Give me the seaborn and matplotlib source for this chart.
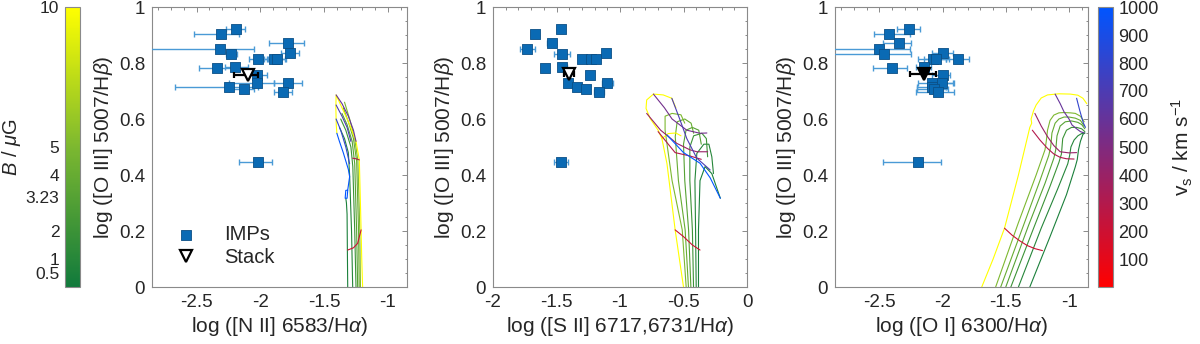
import numpy as np
import pandas as pd
import matplotlib
matplotlib.use('Agg')
import matplotlib.pyplot as plt
import seaborn as sns
from matplotlib.colors import LinearSegmentedColormap, Normalize
from matplotlib.cm import ScalarMappable
from matplotlib.ticker import MultipleLocator

sns.set_theme(style='white')
plt.rcParams['font.family'] = ['Liberation Sans', 'DejaVu Sans']
plt.rcParams['mathtext.fontset'] = 'custom'
plt.rcParams['mathtext.rm'] = 'Liberation Sans'
plt.rcParams['mathtext.it'] = 'Liberation Sans:italic'

# ---- observed points (IMPs), shared y ----
o3 = [0.920, 0.902, 0.872, 0.851, 0.832, 0.837, 0.814, 0.814, 0.814, 0.781,
      0.786, 0.758, 0.730, 0.730, 0.715, 0.708, 0.695, 0.445]

n2 = [-2.19, -2.31, -1.78, -2.32, -2.23, -1.77, -2.02, -1.89, -1.87, -2.34,
      -2.20, -2.03, -2.03, -1.78, -2.25, -2.13, -1.82, -2.02]
n2_lo = [-2.27, -2.52, -1.93, -3.00, -2.27, -1.84, -2.09, -1.97, -1.94, -2.48,
         -2.28, -2.10, -2.25, -1.89, -2.67, -2.25, -1.89, -2.17]
n2_hi = [-2.12, -2.17, -1.66, -2.05, -2.18, -1.70, -1.95, -1.81, -1.80, -2.20,
         -2.10, -1.95, -1.89, -1.67, -2.02, -2.05, -1.75, -1.91]

s2 = [-1.466, -1.671, -1.539, -1.729, -1.455, -1.113, -1.303, -1.229, -1.189, -1.587,
      -1.453, -1.239, -1.408, -1.100, -1.342, -1.271, -1.166, -1.466]
s2_lo = [-1.50, -1.70, -1.575, -1.79, -1.52, -1.13, -1.32, -1.25, -1.21, -1.60,
         -1.48, -1.25, -1.42, -1.145, -1.36, -1.29, -1.205, -1.52]
s2_hi = [-1.44, -1.64, -1.505, -1.67, -1.39, -1.10, -1.28, -1.21, -1.17, -1.58,
         -1.42, -1.23, -1.40, -1.055, -1.32, -1.255, -1.125, -1.41]

o1 = [-2.267, -2.425, -2.345, -2.50, -2.459, -1.995, -2.078, -2.054, -1.878, -2.40,
      -2.15, -2.00, -2.085, -2.005, -2.083, -2.065, -2.036, -2.19]
o1_lo = [-2.36, -2.54, -2.47, -3.00, -3.00, -2.08, -2.19, -2.15, -1.97, -2.55,
         -2.21, -2.08, -2.19, -2.09, -2.20, -2.20, -2.21, -2.47]
o1_hi = [-2.18, -2.26, -2.25, -2.26, -2.25, -1.92, -1.97, -1.95, -1.79, -2.28,
         -2.09, -1.94, -1.92, -1.91, -1.97, -1.96, -1.91, -2.01]

# stacked spectrum: (x, x_lo, x_hi, y) per panel
stack_n2 = (-2.10, -2.21, -2.02, 0.757)
stack_s2 = (-1.40, -1.44, -1.36, 0.760)
stack_o1 = (-2.15, -2.26, -2.05, 0.762)

# ---- shock model grids: (value, xs, ys) ----
n2_B_lines = [
    (10, [-1.198, -1.205, -1.21, -1.224, -1.25, -1.30, -1.36, -1.406, -1.408, -1.405, -1.40],
         [0.0, 0.10, 0.204, 0.454, 0.52, 0.58, 0.64, 0.686, 0.64, 0.58, 0.549]),
    (5, [-1.215, -1.22, -1.235, -1.26, -1.30, -1.34], [0.0, 0.2, 0.45, 0.53, 0.60, 0.66]),
    (4, [-1.225, -1.23, -1.245, -1.27, -1.31, -1.35], [0.0, 0.2, 0.45, 0.53, 0.59, 0.64]),
    (3.23, [-1.237, -1.245, -1.26, -1.28, -1.32, -1.36], [0.0, 0.2, 0.44, 0.52, 0.58, 0.62]),
    (2, [-1.25, -1.26, -1.275, -1.29, -1.33, -1.37], [0.0, 0.2, 0.43, 0.50, 0.56, 0.60]),
    (1, [-1.276, -1.285, -1.30, -1.31, -1.34, -1.38], [0.0, 0.2, 0.40, 0.48, 0.53, 0.57]),
    (0.5, [-1.315, -1.318, -1.32, -1.325, -1.33], [0.0, 0.15, 0.26, 0.30, 0.317]),
]
n2_v_lines = [
    (200, [-1.315, -1.27, -1.237, -1.21], [0.132, 0.14, 0.156, 0.204]),
    (300, [-1.276, -1.25, -1.224], [0.46, 0.458, 0.454]),
    (600, [-1.406, -1.36, -1.31, -1.27, -1.25], [0.686, 0.655, 0.61, 0.56, 0.52]),
    (700, [-1.406, -1.36, -1.32, -1.29], [0.65, 0.61, 0.57, 0.52]),
    (800, [-1.406, -1.37, -1.33, -1.30], [0.60, 0.56, 0.50, 0.44]),
    (1000, [-1.40, -1.38, -1.35, -1.31, -1.30, -1.315, -1.33, -1.335, -1.32, -1.315],
           [0.549, 0.52, 0.48, 0.42, 0.394, 0.346, 0.345, 0.317, 0.317, 0.345]),
]

s2_B_lines = [
    (10, [-0.50, -0.566, -0.63, -0.67, -0.70, -0.763, -0.795, -0.79, -0.737, -0.66, -0.592, -0.56],
         [0.0, 0.205, 0.44, 0.53, 0.56, 0.602, 0.638, 0.668, 0.689, 0.686, 0.674, 0.64]),
    (10, [-0.67, -0.62, -0.56, -0.52], [0.53, 0.548, 0.55, 0.54]),
    (5, [-0.479, -0.51, -0.59, -0.645, -0.645, -0.59, -0.52, -0.49],
        [0.0, 0.204, 0.38, 0.56, 0.61, 0.62, 0.615, 0.585]),
    (4, [-0.461, -0.487, -0.54, -0.565, -0.55, -0.49, -0.44, -0.42],
        [0.0, 0.204, 0.38, 0.537, 0.59, 0.60, 0.585, 0.549]),
    (3.23, [-0.442, -0.46, -0.49, -0.50, -0.48, -0.43, -0.38, -0.36],
           [0.0, 0.204, 0.38, 0.51, 0.56, 0.57, 0.56, 0.51]),
    (2, [-0.421, -0.43, -0.45, -0.45, -0.42, -0.355, -0.32, -0.31],
        [0.0, 0.204, 0.38, 0.50, 0.54, 0.549, 0.53, 0.465]),
    (1, [-0.40, -0.405, -0.41, -0.395, -0.34, -0.30, -0.277, -0.264],
        [0.0, 0.204, 0.38, 0.477, 0.51, 0.51, 0.465, 0.405]),
    (0.5, [-0.382, -0.382, -0.37, -0.33, -0.277, -0.21],
          [0.0, 0.204, 0.38, 0.43, 0.405, 0.317]),
]
s2_v_lines = [
    (200, [-0.566, -0.50, -0.43, -0.37], [0.204, 0.18, 0.15, 0.132]),
    (300, [-0.70, -0.62, -0.566, -0.45, -0.36], [0.555, 0.51, 0.48, 0.468, 0.456]),
    (400, [-0.79, -0.68, -0.553, -0.45, -0.395, -0.31], [0.62, 0.56, 0.513, 0.49, 0.483, 0.483]),
    (550, [-0.737, -0.65, -0.59, -0.474, -0.37, -0.316], [0.689, 0.64, 0.60, 0.56, 0.549, 0.55]),
    (700, [-0.592, -0.53, -0.474, -0.395, -0.29], [0.674, 0.60, 0.53, 0.46, 0.418]),
    (1000, [-0.63, -0.50, -0.37, -0.29, -0.21], [0.543, 0.48, 0.442, 0.39, 0.317]),
]

o1_B_lines = [
    (10, [-1.69, -1.60, -1.51, -1.40, -1.31, -1.295, -1.30, -1.28, -1.26, -1.22, -1.17, -1.08, -0.99, -0.93, -0.89, -0.86],
         [0.0, 0.10, 0.21, 0.40, 0.57, 0.585, 0.60, 0.63, 0.65, 0.675, 0.686, 0.69, 0.689, 0.685, 0.674, 0.655]),
    (5, [-1.58, -1.40, -1.26, -1.19, -1.18, -1.17, -1.15, -1.12, -1.08, -1.04, -0.99, -0.95, -0.91, -0.88],
        [0.0, 0.23, 0.40, 0.49, 0.52, 0.56, 0.595, 0.614, 0.622, 0.623, 0.622, 0.62, 0.61, 0.59]),
    (4, [-1.54, -1.36, -1.23, -1.16, -1.145, -1.135, -1.11, -1.08, -1.04, -1.0, -0.95, -0.91, -0.88],
        [0.0, 0.22, 0.38, 0.47, 0.50, 0.55, 0.585, 0.60, 0.607, 0.607, 0.603, 0.595, 0.575]),
    (3.23, [-1.50, -1.32, -1.19, -1.12, -1.105, -1.095, -1.07, -1.03, -0.98, -0.93, -0.90, -0.875],
           [0.0, 0.22, 0.37, 0.46, 0.49, 0.54, 0.575, 0.59, 0.593, 0.588, 0.58, 0.565]),
    (2, [-1.46, -1.28, -1.15, -1.08, -1.06, -1.05, -1.02, -0.98, -0.94, -0.90, -0.875],
        [0.0, 0.21, 0.36, 0.445, 0.475, 0.53, 0.56, 0.57, 0.57, 0.565, 0.555]),
    (1, [-1.40, -1.22, -1.09, -1.01, -0.995, -0.985, -0.96, -0.93, -0.90, -0.875],
        [0.0, 0.21, 0.35, 0.44, 0.47, 0.50, 0.525, 0.54, 0.548, 0.55]),
    (0.5, [-1.31, -1.15, -1.02, -0.95, -0.935, -0.925, -0.91, -0.89, -0.875],
          [0.0, 0.18, 0.33, 0.43, 0.455, 0.49, 0.52, 0.545, 0.55]),
]
o1_v_lines = [
    (200, [-1.51, -1.45, -1.39, -1.33, -1.27, -1.21], [0.21, 0.185, 0.165, 0.148, 0.137, 0.13]),
    (300, [-1.29, -1.23, -1.17, -1.12, -1.07, -1.02, -0.96], [0.56, 0.525, 0.495, 0.475, 0.463, 0.458, 0.457]),
    (400, [-1.27, -1.22, -1.17, -1.12, -1.07, -1.0, -0.94], [0.62, 0.575, 0.537, 0.505, 0.483, 0.479, 0.48]),
    (600, [-1.11, -1.07, -1.04, -1.0, -0.977, -0.94, -0.91, -0.88], [0.689, 0.655, 0.626, 0.60, 0.579, 0.565, 0.555, 0.55]),
    (800, [-0.94, -0.915, -0.886, -0.87], [0.674, 0.63, 0.585, 0.57]),
]

# ticks / labels
y_ticks = [0, 0.2, 0.4, 0.6, 0.8, 1]
y_ticklabels = ['0', '0.2', '0.4', '0.6', '0.8', '1']
x_ticks_wide = [-2.5, -2, -1.5, -1]
x_ticklabels_wide = ['-2.5', '-2', '-1.5', '-1']
x_ticks_s2 = [-2, -1.5, -1, -0.5, 0]
x_ticklabels_s2 = ['-2', '-1.5', '-1', '-0.5', '0']
B_ticks = [0.5, 1, 2, 3.23, 4, 5, 10]
B_ticklabels = ['0.5', '1', '2', '3.23', '4', '5', '10']
v_ticks = [100, 200, 300, 400, 500, 600, 700, 800, 900, 1000]

b_cmap = LinearSegmentedColormap.from_list('bfield', ['#117a3c', '#7cb830', '#ffff00'])
v_cmap = LinearSegmentedColormap.from_list('vshock', ['#ff0000', '#0055ff'])
b_norm = Normalize(0, 10)
v_norm = Normalize(0, 1000)

TICK_FS = 13.5
LABEL_FS = 15


def lines_frame(lines):
    rows = []
    for i, (val, xs, ys) in enumerate(lines):
        for x, y in zip(xs, ys):
            rows.append((i, val, x, y))
    return pd.DataFrame(rows, columns=['line', 'value', 'x', 'y'])


fig = plt.figure(figsize=(12, 3.44), dpi=100)
bottom, height = 57 / 344, 280 / 344
cax1 = fig.add_axes([65 / 1200, bottom, 15 / 1200, height])
ax1 = fig.add_axes([152 / 1200, bottom, 255 / 1200, height])
ax2 = fig.add_axes([493 / 1200, bottom, 254 / 1200, height])
ax3 = fig.add_axes([835 / 1200, bottom, 253 / 1200, height])
cax2 = fig.add_axes([1098 / 1200, bottom, 15 / 1200, height])

gray = '#8a8a8a'
txt = '#262626'
panels = [
    (ax1, n2, n2_lo, n2_hi, stack_n2, n2_B_lines, n2_v_lines, (-2.85, -0.85),
     x_ticks_wide, x_ticklabels_wide, r'log ([N II] 6583/H$\alpha$)', 'white'),
    (ax2, s2, s2_lo, s2_hi, stack_s2, s2_B_lines, s2_v_lines, (-2, 0),
     x_ticks_s2, x_ticklabels_s2, r'log ([S II] 6717,6731/H$\alpha$)', 'white'),
    (ax3, o1, o1_lo, o1_hi, stack_o1, o1_B_lines, o1_v_lines, (-2.85, -0.85),
     x_ticks_wide, x_ticklabels_wide, r'log ([O I] 6300/H$\alpha$)', 'black'),
]

for ax, xv, lo, hi, stk, blines, vlines, xlim, xt, xtl, xlabel, stkface in panels:
    sns.lineplot(data=lines_frame(blines), x='x', y='y', units='line', hue='value',
                 palette=b_cmap, hue_norm=b_norm, estimator=None, sort=False,
                 linewidth=0.8, legend=False, ax=ax)
    sns.lineplot(data=lines_frame(vlines), x='x', y='y', units='line', hue='value',
                 palette=v_cmap, hue_norm=v_norm, estimator=None, sort=False,
                 linewidth=0.8, legend=False, ax=ax)
    xv = np.array(xv)
    ax.errorbar(xv, o3, xerr=[xv - np.array(lo), np.array(hi) - xv], fmt='none',
                ecolor='#4a9ad6', elinewidth=1.0, capsize=2.2, capthick=1.0, zorder=3)
    sns.scatterplot(x=xv, y=o3, marker='s', s=48, color='#0a6ab4',
                    edgecolor='#0b4f86', linewidth=0.6, zorder=4, ax=ax)
    sx, slo, shi, sy = stk
    ax.errorbar([sx], [sy], xerr=[[sx - slo], [shi - sx]], fmt='none', ecolor='black',
                elinewidth=1.6, capsize=2.5, capthick=1.6, zorder=5)
    ax.plot([sx], [sy], marker='v', ms=8, mfc=stkface, mec='black', mew=1.6,
            ls='none', zorder=6)

    ax.set_xlim(*xlim)
    ax.set_ylim(0, 1)
    ax.set_xticks(xt)
    ax.set_xticklabels(xtl)
    ax.set_yticks(y_ticks)
    ax.set_yticklabels(y_ticklabels)
    ax.xaxis.set_minor_locator(MultipleLocator(0.1))
    ax.yaxis.set_minor_locator(MultipleLocator(0.05))
    ax.tick_params(which='both', direction='in', top=True, right=True, color=gray,
                   labelsize=TICK_FS, labelcolor=txt, width=0.7)
    ax.tick_params(which='major', length=3.5, pad=5)
    ax.tick_params(which='minor', length=1.8)
    for sp in ax.spines.values():
        sp.set_color(gray)
        sp.set_linewidth(0.8)
    ax.set_xlabel(xlabel, fontsize=LABEL_FS, color=txt, labelpad=3)
    ax.set_ylabel(r'log ([O III] 5007/H$\beta$)', fontsize=LABEL_FS, color=txt, labelpad=3)

# legend in first panel
h1 = ax1.scatter([], [], marker='s', s=48, color='#0a6ab4', edgecolor='#0b4f86', linewidth=0.6)
h2, = ax1.plot([], [], marker='v', ms=8, mfc='white', mec='black', mew=1.6, ls='none')
ax1.legend([h1, h2], ['IMPs', 'Stack'], loc='lower left', bbox_to_anchor=(0.0, 0.02),
           frameon=False, fontsize=14.5, handletextpad=0.9, labelspacing=0.2,
           borderaxespad=0.3)

# colorbars
cb1 = fig.colorbar(ScalarMappable(norm=b_norm, cmap=b_cmap), cax=cax1)
cb1.set_ticks(B_ticks)
cb1.set_ticklabels(B_ticklabels)
cax1.yaxis.set_ticks_position('left')
cax1.yaxis.set_label_position('left')
cb1.set_label(r'$B$ / $\mu$G', fontsize=14.5, color=txt)
cax1.yaxis.set_label_coords(-2.8, 0.5)

cb2 = fig.colorbar(ScalarMappable(norm=v_norm, cmap=v_cmap), cax=cax2)
cb2.set_ticks(v_ticks)
cb2.set_label(r'v$_\mathrm{s}$ / km s$^{-1}$', fontsize=LABEL_FS, color=txt, labelpad=8)

for cb, fs in ((cb1, 12.5), (cb2, 13)):
    cb.outline.set_edgecolor(gray)
    cb.outline.set_linewidth(0.8)
    cb.ax.tick_params(labelsize=fs, labelcolor=txt, color=gray, direction='in',
                      length=3, width=0.7, pad=4)

fig.savefig('out.png', dpi=100)
